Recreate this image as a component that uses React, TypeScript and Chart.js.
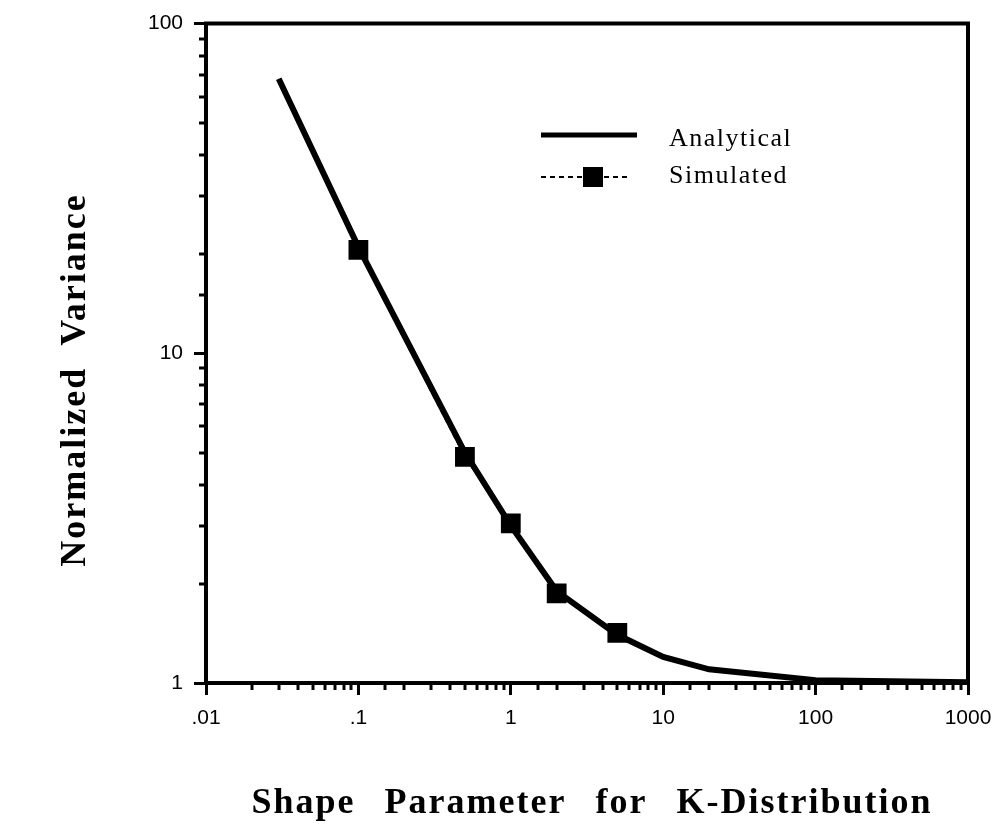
import React, { useEffect, useRef } from 'react';
import { Chart, registerables } from 'chart.js';

Chart.register(...registerables);

const analyticalX = [0.03, 0.1, 0.5, 1, 2, 5, 10, 20, 100, 1000];
const analyticalY = [68, 21, 5, 3, 1.9, 1.4, 1.2, 1.1, 1.02, 1.005];
const simulatedX = [0.1, 0.5, 1, 2, 5];
const simulatedY = [20.6, 4.85, 3.05, 1.87, 1.42];
const xTickValues = [0.01, 0.1, 1, 10, 100, 1000];
const xTickLabels = ['.01', '.1', '1', '10', '100', '1000'];
const yTickValues = [1, 10, 100];
const yTickLabels = ['1', '10', '100'];
const seriesNames = ['Analytical', 'Simulated'];
const xTitle = 'Shape Parameter for K-Distribution';
const yTitle = 'Normalized Variance';

const findIndex = (vals: number[], v: number) =>
  vals.findIndex((t) => Math.abs(Math.log10(t) - Math.log10(v)) < 1e-6);

const decorPlugin = {
  id: 'decor',
  afterDraw(chart: any) {
    const { ctx, chartArea: a, scales } = chart;
    ctx.save();
    ctx.strokeStyle = '#000';
    ctx.fillStyle = '#000';
    // frame top / right
    ctx.lineWidth = 4;
    ctx.beginPath();
    ctx.moveTo(a.left - 2, a.top);
    ctx.lineTo(a.right, a.top);
    ctx.lineTo(a.right, a.bottom + 2);
    ctx.stroke();
    // minor ticks
    ctx.lineWidth = 3;
    const xs = scales.x;
    xs.ticks.forEach((t: any) => {
      if (findIndex(xTickValues, t.value) < 0) {
        const px = Math.round(xs.getPixelForValue(t.value));
        ctx.beginPath();
        ctx.moveTo(px, a.bottom);
        ctx.lineTo(px, a.bottom + 7);
        ctx.stroke();
      }
    });
    const ys = scales.y;
    ys.ticks.forEach((t: any) => {
      if (findIndex(yTickValues, t.value) < 0) {
        const py = Math.round(ys.getPixelForValue(t.value));
        ctx.beginPath();
        ctx.moveTo(a.left - 7, py);
        ctx.lineTo(a.left, py);
        ctx.stroke();
      }
    });
    // legend
    ctx.lineWidth = 5;
    ctx.setLineDash([]);
    ctx.beginPath();
    ctx.moveTo(541, 135);
    ctx.lineTo(637, 135);
    ctx.stroke();
    ctx.lineWidth = 2;
    ctx.setLineDash([5, 4]);
    ctx.beginPath();
    ctx.moveTo(541, 177);
    ctx.lineTo(627, 177);
    ctx.stroke();
    ctx.setLineDash([]);
    ctx.fillRect(583, 167, 20, 20);
    ctx.font = '26px "Liberation Serif"';
    (ctx as any).letterSpacing = '1.5px';
    ctx.textAlign = 'left';
    ctx.textBaseline = 'alphabetic';
    ctx.fillText(seriesNames[0], 669, 146);
    ctx.fillText(seriesNames[1], 669, 183);
    // titles
    ctx.font = 'bold 36px "Liberation Serif"';
    (ctx as any).letterSpacing = '2px';
    (ctx as any).wordSpacing = '18px';
    ctx.textAlign = 'center';
    ctx.textBaseline = 'alphabetic';
    ctx.fillText(xTitle, 592, 813);
    (ctx as any).wordSpacing = '10px';
    ctx.translate(85, 380);
    ctx.rotate(-Math.PI / 2);
    ctx.fillText(yTitle, 0, 0);
    ctx.restore();
  },
};

const tickFont = { family: '"Liberation Sans", Arial, sans-serif', size: 21 };

export default function App() {
  const ref = useRef<HTMLCanvasElement | null>(null);
  useEffect(() => {
    if (!ref.current) return;
    const chart = new Chart(ref.current, {
      type: 'line',
      data: {
        datasets: [
          {
            label: seriesNames[0],
            data: analyticalX.map((x, i) => ({ x, y: analyticalY[i] })),
            borderColor: '#000',
            borderWidth: 6,
            pointRadius: 0,
            tension: 0,
            fill: false,
          },
          {
            label: seriesNames[1],
            data: simulatedX.map((x, i) => ({ x, y: simulatedY[i] })),
            borderColor: '#000',
            backgroundColor: '#000',
            borderWidth: 2,
            borderDash: [5, 4],
            pointStyle: 'rect',
            pointRadius: 14,
            pointBorderWidth: 0,
            pointBackgroundColor: '#000',
            tension: 0,
            fill: false,
          },
        ],
      },
      options: {
        responsive: false,
        animation: false,
        devicePixelRatio: 1,
        layout: { padding: { top: 22, right: 39, left: 0, bottom: 0 } },
        plugins: { legend: { display: false }, tooltip: { enabled: false } },
        scales: {
          x: {
            type: 'logarithmic',
            min: 0.01,
            max: 1000,
            position: 'bottom',
            afterFit: (s: any) => {
              s.height = 144;
            },
            border: { display: true, color: '#000', width: 4 },
            grid: {
              drawOnChartArea: false,
              drawTicks: true,
              tickLength: 12,
              tickWidth: 3,
              tickColor: (c: any) =>
                c.tick && findIndex(xTickValues, c.tick.value) >= 0 ? '#000' : 'rgba(0,0,0,0)',
            },
            ticks: {
              autoSkip: false,
              maxRotation: 0,
              minRotation: 0,
              padding: 11,
              color: '#000',
              font: tickFont,
              callback: (v: any) => {
                const i = findIndex(xTickValues, Number(v));
                return i >= 0 ? xTickLabels[i] : '';
              },
            },
          },
          y: {
            type: 'logarithmic',
            min: 1,
            max: 100,
            position: 'left',
            afterFit: (s: any) => {
              s.width = 206;
            },
            border: { display: true, color: '#000', width: 4 },
            grid: {
              drawOnChartArea: false,
              drawTicks: true,
              tickLength: 12,
              tickWidth: 3,
              tickColor: (c: any) =>
                c.tick && findIndex(yTickValues, c.tick.value) >= 0 ? '#000' : 'rgba(0,0,0,0)',
            },
            ticks: {
              autoSkip: false,
              padding: 11,
              color: '#000',
              font: tickFont,
              callback: (v: any) => {
                const i = findIndex(yTickValues, Number(v));
                return i >= 0 ? yTickLabels[i] : '';
              },
            },
          },
        },
      },
      plugins: [decorPlugin],
    } as any);
    return () => chart.destroy();
  }, []);
  return (
    <div style={{ position: 'fixed', left: 0, top: 0, width: 1007, height: 827, background: '#fff' }}>
      <canvas ref={ref} width={1007} height={827} style={{ display: 'block' }} />
    </div>
  );
}
